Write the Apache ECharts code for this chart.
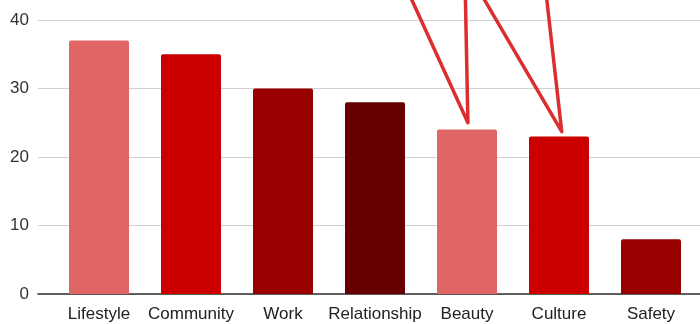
<!DOCTYPE html>
<html>
<head>
<meta charset="utf-8">
<script src="https://cdn.jsdelivr.net/npm/echarts@6/dist/echarts.min.js"></script>
<style>
  html, body { margin: 0; padding: 0; background: #ffffff; }
  #chart { width: 700px; height: 324px; }
</style>
</head>
<body>
<div id="chart"></div>
<script>
// Categories and their counts
const categories = ['Lifestyle', 'Community', 'Work', 'Relationship', 'Beauty', 'Culture', 'Safety'];
const values = [37, 35, 30, 28, 24, 23, 8];
const yTicks = [0, 10, 20, 30, 40];

// Bar palette, cycled across categories
const palette = ['#e06666', '#cc0000', '#990000', '#660000'];

// Hand-drawn pointer strokes, in (category index, value) units
const pointerBeauty = [[3.33, 45], [4.01, 25], [3.98, 45]];
const pointerCulture = [[4.10, 45], [5.03, 23.7], [4.85, 45]];

const font = '"Liberation Sans", Arial, sans-serif';

const chart = echarts.init(document.getElementById('chart'), null, { renderer: 'canvas' });

const option = {
  animation: false,
  grid: [
    { left: 38, right: 0, top: 20, bottom: 30 },
    { left: 53, right: 3, top: 20, bottom: 30 }
  ],
  xAxis: [
    {
      gridIndex: 0, type: 'value', min: 0, max: 1,
      axisLine: { show: true, onZero: false, lineStyle: { color: '#333333', width: 1.5 } },
      axisTick: { show: false }, axisLabel: { show: false }, splitLine: { show: false }
    },
    {
      gridIndex: 1, type: 'category', data: categories,
      axisLine: { show: false }, axisTick: { show: false },
      axisLabel: { color: '#222222', fontSize: 17, fontFamily: font, margin: 12, interval: 0 }
    },
    {
      gridIndex: 1, type: 'value', min: -0.5, max: 6.5, show: false
    }
  ],
  yAxis: [
    {
      gridIndex: 0, type: 'value', min: yTicks[0], max: yTicks[yTicks.length - 1], interval: 10,
      axisLine: { show: false }, axisTick: { show: false },
      axisLabel: { color: '#333333', fontSize: 17, fontFamily: font, margin: 9 },
      splitLine: { lineStyle: { color: '#d0d0d0', width: 1 } }
    },
    {
      gridIndex: 1, type: 'value', min: yTicks[0], max: yTicks[yTicks.length - 1], show: false
    }
  ],
  series: [
    {
      type: 'bar', xAxisIndex: 1, yAxisIndex: 1,
      data: values.map((v, i) => ({ value: v, itemStyle: { color: palette[i % palette.length] } })),
      barWidth: 60,
      itemStyle: { borderRadius: [2, 2, 0, 0] }
    },
    {
      type: 'line', xAxisIndex: 2, yAxisIndex: 1, data: pointerBeauty,
      symbol: 'none', clip: false, z: 5,
      lineStyle: { color: '#dc2e2e', width: 3.5, join: 'round', cap: 'round' }
    },
    {
      type: 'line', xAxisIndex: 2, yAxisIndex: 1, data: pointerCulture,
      symbol: 'none', clip: false, z: 5,
      lineStyle: { color: '#dc2e2e', width: 3.5, join: 'round', cap: 'round' }
    }
  ]
};

chart.setOption(option);
</script>
</body>
</html>
